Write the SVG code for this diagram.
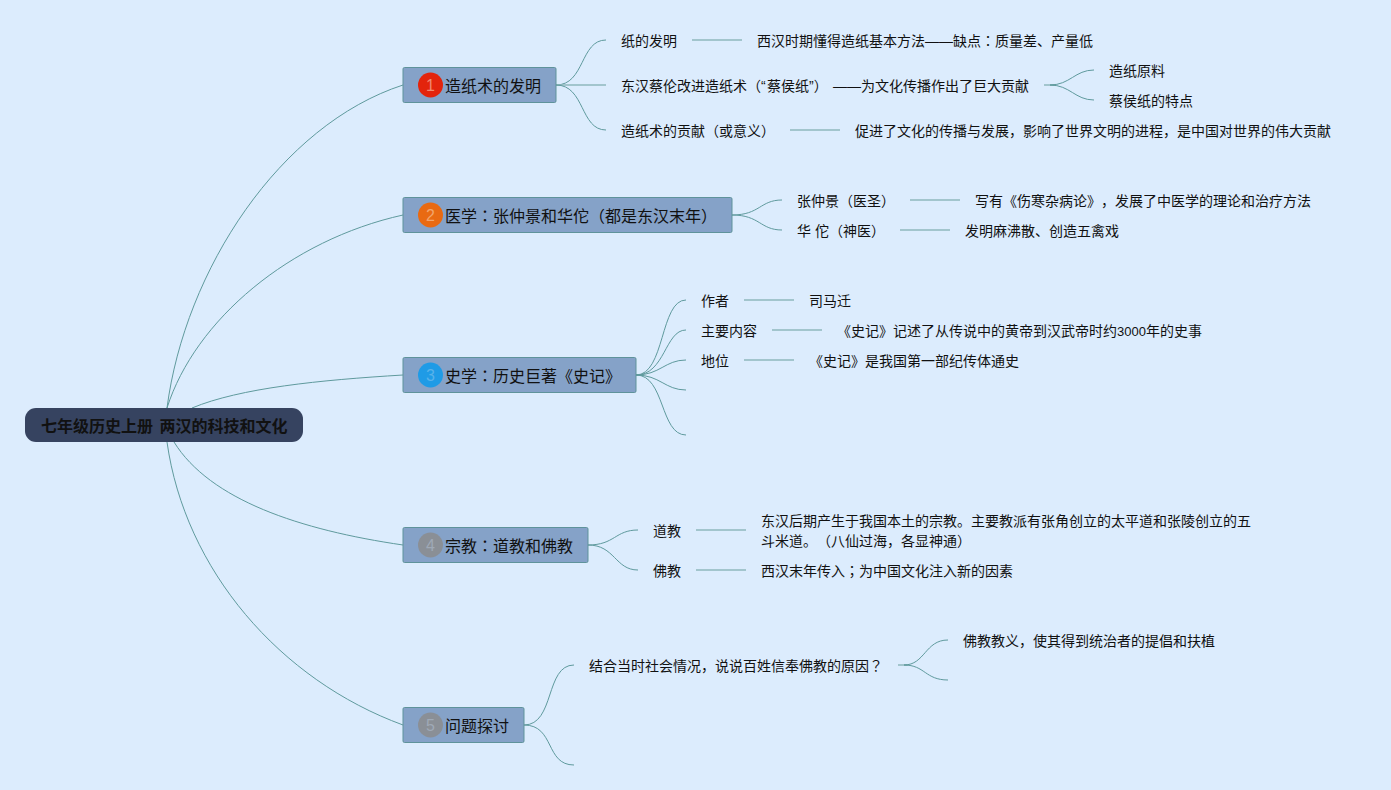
<svg xmlns="http://www.w3.org/2000/svg" width="1391" height="790" viewBox="0 0 1391 790">
<style>
text{font-family:"Liberation Sans","Noto Sans CJK SC",sans-serif;fill:#111;text-spacing-trim:space-all}
tspan.p{font-family:"Noto Sans CJK TC",sans-serif}
.t{font-size:14px}
.m{font-size:16px}
.n{font-size:16px}
.box{fill:#85a2c8;stroke:#5f939b;stroke-width:1}
.c{fill:none;stroke:#5f9a9d;stroke-width:1}
.s{fill:none;stroke:#8fb8bc;stroke-width:1.500}
</style>
<rect width="1391" height="790" fill="#dcecfd"/>
<g id="connectors">
<path class="c" d="M167 408C185 270 280 125 403 85"/>
<path class="c" d="M167 408C195 320 290 240 403 215"/>
<path class="c" d="M192 408C240 388 320 380 403 375"/>
<path class="c" d="M174 442C210 500 300 530 403 545"/>
<path class="c" d="M167 442C185 570 280 680 403 725"/>
<path class="c" d="M556 85C585 85 580 40 606 40"/>
<path class="s" d="M556 85H606"/>
<path class="c" d="M556 85C585 85 580 130 606 130"/>
<path class="s" d="M692 40H742"/>
<path class="s" d="M1044 85H1054"/>
<path class="c" d="M1050 85C1070 85 1075 70 1094 70"/>
<path class="c" d="M1050 85C1070 85 1075 100 1094 100"/>
<path class="s" d="M790 130H840"/>
<path class="c" d="M732 215C760 215 760 200 782 200"/>
<path class="c" d="M732 215C760 215 760 230 782 230"/>
<path class="s" d="M910 200H960"/>
<path class="s" d="M900 230H950"/>
<path class="c" d="M636 375C665 375 660 300 686 300"/>
<path class="c" d="M636 375C665 375 665 330 686 330"/>
<path class="c" d="M636 375C660 375 665 360 686 360"/>
<path class="c" d="M636 375C660 375 665 390 686 390"/>
<path class="c" d="M636 375C665 375 660 435 686 435"/>
<path class="s" d="M744 300H794"/>
<path class="s" d="M772 330H822"/>
<path class="s" d="M744 360H794"/>
<path class="c" d="M588 545C615 545 615 530 638 530"/>
<path class="c" d="M588 545C615 545 615 570 638 570"/>
<path class="s" d="M696 530H746"/>
<path class="s" d="M696 570H746"/>
<path class="c" d="M524 725C555 725 545 665 574 665"/>
<path class="c" d="M524 725C555 725 545 765 574 765"/>
<path class="s" d="M898 665H908"/>
<path class="c" d="M904 665C925 665 925 640 948 640"/>
<path class="c" d="M904 665C925 665 925 680 948 680"/>
</g>
<g id="root">
<rect x="25" y="408" width="278" height="34" rx="11" fill="#364360"/>
<text x="41" y="432" font-size="16" font-weight="700">七年级历史上册<tspan x="159.500">两汉的科技和文化</tspan></text>
</g>
<g id="n1">
<rect class="box" x="403" y="67.500" width="153" height="35" rx="1.500"/>
<circle cx="430.500" cy="85" r="12.500" fill="#e3240c"/>
<text class="n" x="430.500" y="91" text-anchor="middle" style="fill:#f08a70">1</text>
<text class="m" x="445" y="91.500">造纸术的发明</text>
</g>
<g id="n1a"><text class="t" x="621" y="46">纸的发明</text></g>
<g id="n1a1"><text class="t" x="757" y="46">西汉时期懂得造纸基本方法——缺点<tspan class="p">：</tspan>质量差、产量低</text></g>
<g id="n1b"><text class="t" x="621" y="91">东汉蔡伦改进造纸术（“<tspan x="767">蔡侯纸”）</tspan><tspan x="833">——为文化传播作出了巨大贡献</tspan></text></g>
<g id="n1b1"><text class="t" x="1109" y="76">造纸原料</text></g>
<g id="n1b2"><text class="t" x="1109" y="106">蔡侯纸的特点</text></g>
<g id="n1c"><text class="t" x="621" y="136">造纸术的贡献（或意义）</text></g>
<g id="n1c1"><text class="t" x="855" y="136">促进了文化的传播与发展，影响了世界文明的进程，是中国对世界的伟大贡献</text></g>
<g id="n2">
<rect class="box" x="403" y="197.500" width="329" height="35" rx="1.500"/>
<circle cx="430.500" cy="215" r="12.500" fill="#e96a12"/>
<text class="n" x="430.500" y="221" text-anchor="middle" style="fill:#f2a56c">2</text>
<text class="m" x="445" y="221.500">医学<tspan class="p">：</tspan>张仲景和华佗（都是东汉末年）</text>
</g>
<g id="n2a"><text class="t" x="797" y="206">张仲景（医圣）</text></g>
<g id="n2a1"><text class="t" x="975" y="206">写有《伤寒杂病论》，发展了中医学的理论和治疗方法</text></g>
<g id="n2b"><text class="t" x="797" y="236" xml:space="preserve">华 佗（神医）</text></g>
<g id="n2b1"><text class="t" x="965" y="236">发明麻沸散、创造五禽戏</text></g>
<g id="n3">
<rect class="box" x="403" y="357.500" width="233" height="35" rx="1.500"/>
<circle cx="430.500" cy="375" r="12.500" fill="#1f9be6"/>
<text class="n" x="430.500" y="381" text-anchor="middle" style="fill:#58b2ea">3</text>
<text class="m" x="445" y="381.500">史学<tspan class="p">：</tspan>历史巨著《史记》</text>
</g>
<g id="n3a"><text class="t" x="701" y="306">作者</text></g>
<g id="n3a1"><text class="t" x="809" y="306">司马迁</text></g>
<g id="n3b"><text class="t" x="701" y="336">主要内容</text></g>
<g id="n3b1"><text class="t" x="837" y="336">《史记》记述了从传说中的黄帝到汉武帝时约<tspan font-size="13">3000</tspan>年的史事</text></g>
<g id="n3c"><text class="t" x="701" y="366">地位</text></g>
<g id="n3c1"><text class="t" x="809" y="366">《史记》是我国第一部纪传体通史</text></g>
<g id="n4">
<rect class="box" x="403" y="527.500" width="185" height="35" rx="1.500"/>
<circle cx="430.500" cy="545" r="12.500" fill="#8a8f96"/>
<text class="n" x="430.500" y="551" text-anchor="middle" style="fill:#9fa9b6">4</text>
<text class="m" x="445" y="551.500">宗教<tspan class="p">：</tspan>道教和佛教</text>
</g>
<g id="n4a"><text class="t" x="653" y="536">道教</text></g>
<g id="n4a1"><text class="t" x="761" y="526">东汉后期产生于我国本土的宗教。主要教派有张角创立的太平道和张陵创立的五</text><text class="t" x="761" y="546">斗米道。（八仙过海，各显神通）</text></g>
<g id="n4b"><text class="t" x="653" y="576">佛教</text></g>
<g id="n4b1"><text class="t" x="761" y="576">西汉末年传入<tspan class="p">；</tspan>为中国文化注入新的因素</text></g>
<g id="n5">
<rect class="box" x="403" y="707.500" width="121" height="35" rx="1.500"/>
<circle cx="430.500" cy="725" r="12.500" fill="#8a8f96"/>
<text class="n" x="430.500" y="731" text-anchor="middle" style="fill:#9fa9b6">5</text>
<text class="m" x="445" y="731.500">问题探讨</text>
</g>
<g id="n5a"><text class="t" x="589" y="671">结合当时社会情况，说说百姓信奉佛教的原因<tspan class="p">？</tspan></text></g>
<g id="n5a1"><text class="t" x="963" y="646">佛教教义，使其得到统治者的提倡和扶植</text></g>
</svg>
